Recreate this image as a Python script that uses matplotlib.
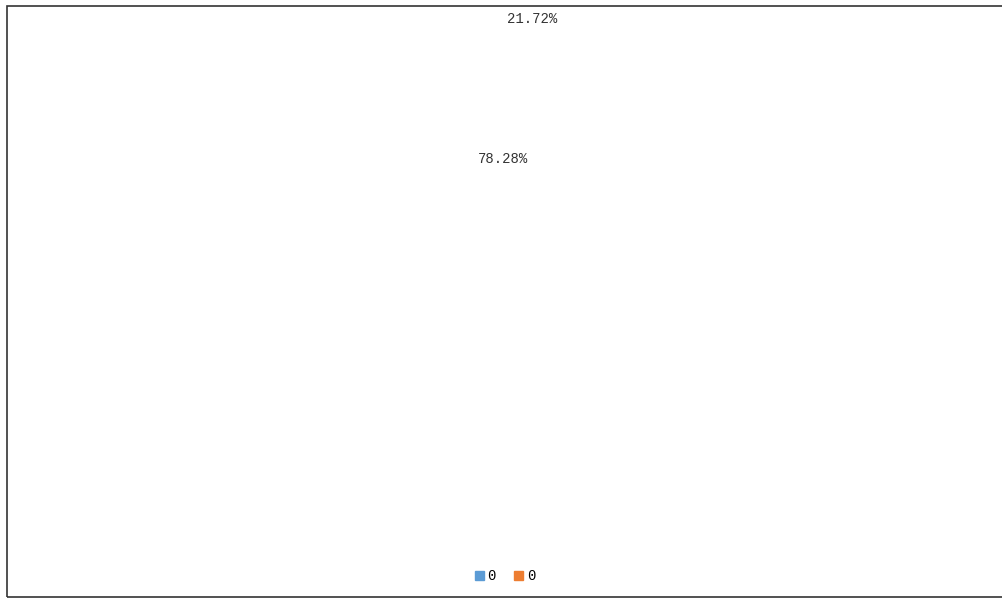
import matplotlib.pyplot as plt
from matplotlib.patches import Rectangle

labels = ['0', '0']
values = [21.72, 78.28]
colors = ['#5B9BD5', '#ED7D31']
pct_pos = [(532, 19), (503, 159)]  # label centres in pixels from top-left

W, H = 1003, 599
fig = plt.figure(figsize=(W / 100, H / 100), dpi=100)
ax = fig.add_axes([0, 0, 1, 1])

# the pie itself has collapsed to nothing, only its labels remain
wedges, texts, autotexts = ax.pie(values, colors=colors, radius=0.001, center=(517, 300),
                                  autopct='%.2f%%', startangle=90, counterclock=False,
                                  frame=True)
ax.set_xlim(0, W)
ax.set_ylim(H, 0)
ax.axis('off')
for t, (x, y) in zip(autotexts, pct_pos):
    t.set_position((x, y))
    t.set_fontfamily('Liberation Mono')
    t.set_fontsize(10)
    t.set_color('#333333')
    t.set_ha('center')
    t.set_va('center')

handles = [Rectangle((0, 0), 1, 1, color=c) for c in colors]
fig.legend(handles, labels, loc='center', bbox_to_anchor=(505 / W, 1 - 576 / H),
           ncol=2, frameon=False, handlelength=0.68, handleheight=0.6,
           handletextpad=0.25, columnspacing=1.3,
           prop={'family': 'Liberation Mono', 'size': 10})

# outer border (right edge falls outside the image)
fig.patches.append(Rectangle((7 / W, 1 - 597 / H), 1.2, (597 - 6) / H,
                             transform=fig.transFigure, fill=False,
                             edgecolor='#333333', linewidth=1.2))

fig.savefig('out.png', dpi=100)
